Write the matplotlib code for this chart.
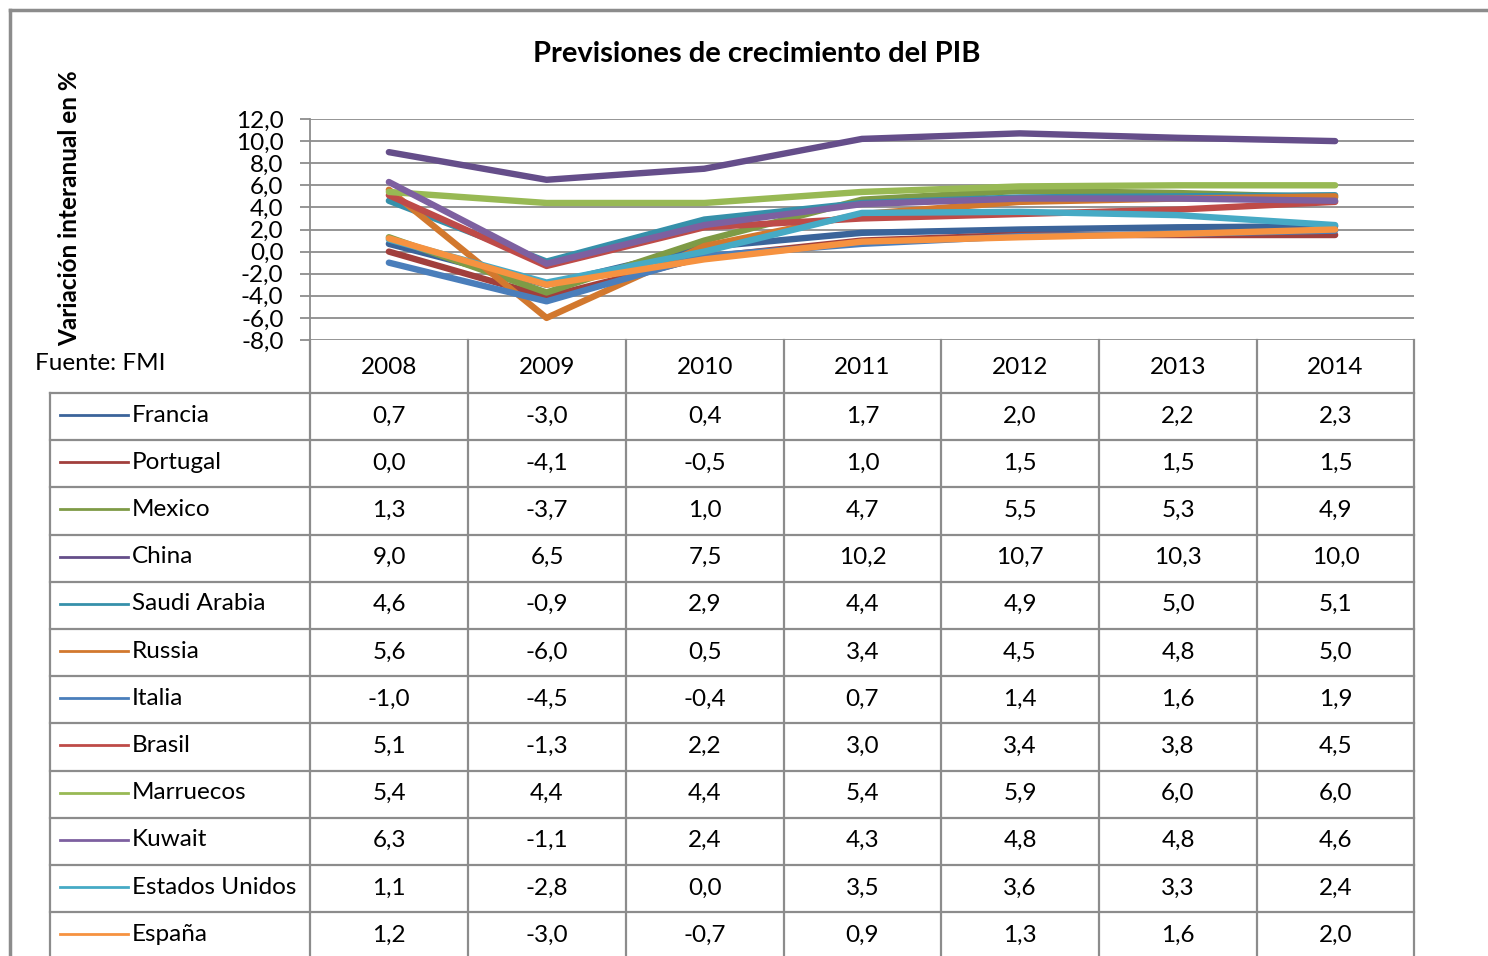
import matplotlib
matplotlib.use("Agg")
import matplotlib.pyplot as plt
from matplotlib.ticker import FuncFormatter

plt.rcParams['font.family'] = ['Lato', 'DejaVu Sans']

years = ['2008', '2009', '2010', '2011', '2012', '2013', '2014']
countries = ['Francia', 'Portugal', 'Mexico', 'China', 'Saudi Arabia', 'Russia',
             'Italia', 'Brasil', 'Marruecos', 'Kuwait', 'Estados Unidos', 'España']

francia = [0.7, -3.0, 0.4, 1.7, 2.0, 2.2, 2.3]
portugal = [0.0, -4.1, -0.5, 1.0, 1.5, 1.5, 1.5]
mexico = [1.3, -3.7, 1.0, 4.7, 5.5, 5.3, 4.9]
china = [9.0, 6.5, 7.5, 10.2, 10.7, 10.3, 10.0]
saudi = [4.6, -0.9, 2.9, 4.4, 4.9, 5.0, 5.1]
russia = [5.6, -6.0, 0.5, 3.4, 4.5, 4.8, 5.0]
italia = [-1.0, -4.5, -0.4, 0.7, 1.4, 1.6, 1.9]
brasil = [5.1, -1.3, 2.2, 3.0, 3.4, 3.8, 4.5]
marruecos = [5.4, 4.4, 4.4, 5.4, 5.9, 6.0, 6.0]
kuwait = [6.3, -1.1, 2.4, 4.3, 4.8, 4.8, 4.6]
eeuu = [1.1, -2.8, 0.0, 3.5, 3.6, 3.3, 2.4]
espana = [1.2, -3.0, -0.7, 0.9, 1.3, 1.6, 2.0]

series = [francia, portugal, mexico, china, saudi, russia,
          italia, brasil, marruecos, kuwait, eeuu, espana]
colors = ['#3B649A', '#A13F3C', '#7E9B46', '#654E8A', '#3690AA', '#D2782E',
          '#4A7EBB', '#BE4B48', '#98B954', '#7D60A0', '#46AAC5', '#F69240']

W, H = 1488, 956
fig = plt.figure(figsize=(W / 100, H / 100), dpi=100)

# overlay in pixel coordinates for frame and table
ov = fig.add_axes([0, 0, 1, 1])
ov.set_xlim(0, W)
ov.set_ylim(H, 0)
ov.axis('off')

grey = '#8C8C8C'
ov.plot([10, 10], [10, H], color=grey, lw=2.5)
ov.plot([10, W], [10, 10], color=grey, lw=2.5)

# plot area
x0, x1, y0, y1 = 310, 1414, 119, 340
ax = fig.add_axes([x0 / W, 1 - y1 / H, (x1 - x0) / W, (y1 - y0) / H])
ax.set_xlim(-0.5, len(years) - 0.5)
ax.set_ylim(-8, 12)
ax.set_yticks(range(-8, 13, 2))
ax.yaxis.set_major_formatter(FuncFormatter(lambda v, p: f"{v:.1f}".replace('.', ',')))
ax.set_xticks([])
ax.grid(axis='y', color=grey, lw=1.3)
ax.set_axisbelow(True)
for s in ['top', 'right', 'bottom']:
    ax.spines[s].set_visible(False)
ax.spines['left'].set_color(grey)
ax.spines['left'].set_linewidth(1.3)
ax.tick_params(axis='y', length=7, width=1.3, color=grey, pad=12, labelsize=17.5)
ax.patch.set_alpha(0)

for vals, c in zip(series, colors):
    ax.plot(range(len(years)), vals, color=c, lw=4.6, solid_capstyle='round',
            solid_joinstyle='round')

fig.text(757 / W, 1 - 54 / H, 'Previsiones de crecimiento del PIB', ha='center',
         va='center', fontsize=21, fontweight='bold')
fig.text(70 / W, 1 - 208 / H, 'Variación interanual en %', rotation=90, ha='center',
         va='center', fontsize=17.5, fontweight='bold')
fig.text(35 / W, 1 - 363 / H, 'Fuente: FMI', ha='left', va='center', fontsize=17.5)

# data table
col_edges = [310, 468, 626, 784, 941, 1099, 1257, 1414]
head_top, head_bot = 340, 393
row_h = 47.2
row_edges = [head_bot + i * row_h for i in range(len(countries) + 1)]

ov.plot([x1, x1], [head_top, H], color=grey, lw=1.6)
for xe in col_edges[:-1]:
    ov.plot([xe, xe], [head_top, H], color=grey, lw=1.6)
ov.plot([50, 50], [head_bot, H], color=grey, lw=1.6)
for ye in row_edges:
    if ye <= H:
        ov.plot([50, x1], [ye, ye], color=grey, lw=1.6)

for j, yr in enumerate(years):
    cx = (col_edges[j] + col_edges[j + 1]) / 2
    ov.text(cx, (head_top + head_bot) / 2 + 1, yr, ha='center', va='center', fontsize=17.5)

for i, (name, vals, c) in enumerate(zip(countries, series, colors)):
    cy = row_edges[i] + 23
    ov.plot([60, 128], [cy - 1, cy - 1], color=c, lw=2)
    ov.text(132, cy - 1, name, ha='left', va='center', fontsize=17.5)
    for j, v in enumerate(vals):
        cx = (col_edges[j] + col_edges[j + 1]) / 2
        ov.text(cx, cy, f"{v:.1f}".replace('.', ','), ha='center', va='center',
                fontsize=17.5)

fig.savefig('out.png', dpi=100)
